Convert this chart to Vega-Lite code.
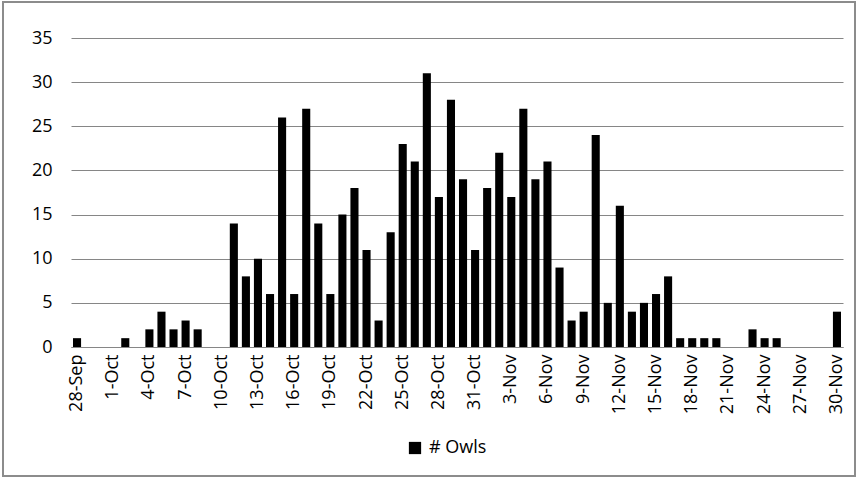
{
  "$schema": "https://vega.github.io/schema/vega-lite/v6.json",
  "autosize": {"type": "none"},
  "width": 852,
  "height": 474,
  "padding": {"left": 3, "top": 2, "right": 3, "bottom": 2},
  "background": "#ffffff",
  "config": {
    "view": {"stroke": "#8c8c8c", "strokeWidth": 2},
    "font": "Open Sans"
  },
  "data": {
    "values": [
      {"date": "28-Sep", "owls": 1}, {"date": "29-Sep", "owls": 0}, {"date": "30-Sep", "owls": 0},
      {"date": "1-Oct", "owls": 0}, {"date": "2-Oct", "owls": 1}, {"date": "3-Oct", "owls": 0},
      {"date": "4-Oct", "owls": 2}, {"date": "5-Oct", "owls": 4}, {"date": "6-Oct", "owls": 2},
      {"date": "7-Oct", "owls": 3}, {"date": "8-Oct", "owls": 2}, {"date": "9-Oct", "owls": 0},
      {"date": "10-Oct", "owls": 0}, {"date": "11-Oct", "owls": 14}, {"date": "12-Oct", "owls": 8},
      {"date": "13-Oct", "owls": 10}, {"date": "14-Oct", "owls": 6}, {"date": "15-Oct", "owls": 26},
      {"date": "16-Oct", "owls": 6}, {"date": "17-Oct", "owls": 27}, {"date": "18-Oct", "owls": 14},
      {"date": "19-Oct", "owls": 6}, {"date": "20-Oct", "owls": 15}, {"date": "21-Oct", "owls": 18},
      {"date": "22-Oct", "owls": 11}, {"date": "23-Oct", "owls": 3}, {"date": "24-Oct", "owls": 13},
      {"date": "25-Oct", "owls": 23}, {"date": "26-Oct", "owls": 21}, {"date": "27-Oct", "owls": 31},
      {"date": "28-Oct", "owls": 17}, {"date": "29-Oct", "owls": 28}, {"date": "30-Oct", "owls": 19},
      {"date": "31-Oct", "owls": 11}, {"date": "1-Nov", "owls": 18}, {"date": "2-Nov", "owls": 22},
      {"date": "3-Nov", "owls": 17}, {"date": "4-Nov", "owls": 27}, {"date": "5-Nov", "owls": 19},
      {"date": "6-Nov", "owls": 21}, {"date": "7-Nov", "owls": 9}, {"date": "8-Nov", "owls": 3},
      {"date": "9-Nov", "owls": 4}, {"date": "10-Nov", "owls": 24}, {"date": "11-Nov", "owls": 5},
      {"date": "12-Nov", "owls": 16}, {"date": "13-Nov", "owls": 4}, {"date": "14-Nov", "owls": 5},
      {"date": "15-Nov", "owls": 6}, {"date": "16-Nov", "owls": 8}, {"date": "17-Nov", "owls": 1},
      {"date": "18-Nov", "owls": 1}, {"date": "19-Nov", "owls": 1}, {"date": "20-Nov", "owls": 1},
      {"date": "21-Nov", "owls": 0}, {"date": "22-Nov", "owls": 0}, {"date": "23-Nov", "owls": 2},
      {"date": "24-Nov", "owls": 1}, {"date": "25-Nov", "owls": 1}, {"date": "26-Nov", "owls": 0},
      {"date": "27-Nov", "owls": 0}, {"date": "28-Nov", "owls": 0}, {"date": "29-Nov", "owls": 0},
      {"date": "30-Nov", "owls": 4}
    ]
  },
  "mark": {"type": "bar"},
  "encoding": {
    "x": {
      "field": "date",
      "type": "ordinal",
      "sort": null,
      "scale": {"type": "band", "range": [68, 840], "paddingInner": 0.33, "paddingOuter": 0.165},
      "axis": {
        "title": null,
        "offset": -129,
        "values": ["28-Sep","1-Oct","4-Oct","7-Oct","10-Oct","13-Oct","16-Oct","19-Oct","22-Oct","25-Oct","28-Oct","31-Oct","3-Nov","6-Nov","9-Nov","12-Nov","15-Nov","18-Nov","21-Nov","24-Nov","27-Nov","30-Nov"],
        "labelAngle": -90,
        "labelFontSize": 18,
        "labelFont": "Open Sans",
        "labelColor": "#000000",
        "labelPadding": 7,
        "ticks": false,
        "domainColor": "#868686",
        "domainWidth": 1,
        "grid": false
      }
    },
    "y": {
      "field": "owls",
      "type": "quantitative",
      "scale": {"domain": [0, 35], "range": [345, 36], "nice": false},
      "axis": {
        "title": null,
        "offset": -68,
        "values": [0, 5, 10, 15, 20, 25, 30, 35],
        "labelFontSize": 18,
        "labelFont": "Open Sans",
        "labelColor": "#000000",
        "labelPadding": 19,
        "ticks": false,
        "domain": false,
        "grid": true,
        "gridColor": "#868686",
        "gridWidth": 1
      }
    },
    "color": {
      "datum": "# Owls",
      "type": "nominal",
      "scale": {"range": ["#000000"]},
      "legend": {
        "title": null,
        "orient": "none",
        "legendX": 403,
        "legendY": 437,
        "symbolType": "square",
        "symbolSize": 150,
        "symbolStrokeWidth": 0,
        "labelFontSize": 18,
        "labelFont": "Open Sans",
        "labelColor": "#000000",
        "labelOffset": 5,
        "padding": 0
      }
    }
  }
}
